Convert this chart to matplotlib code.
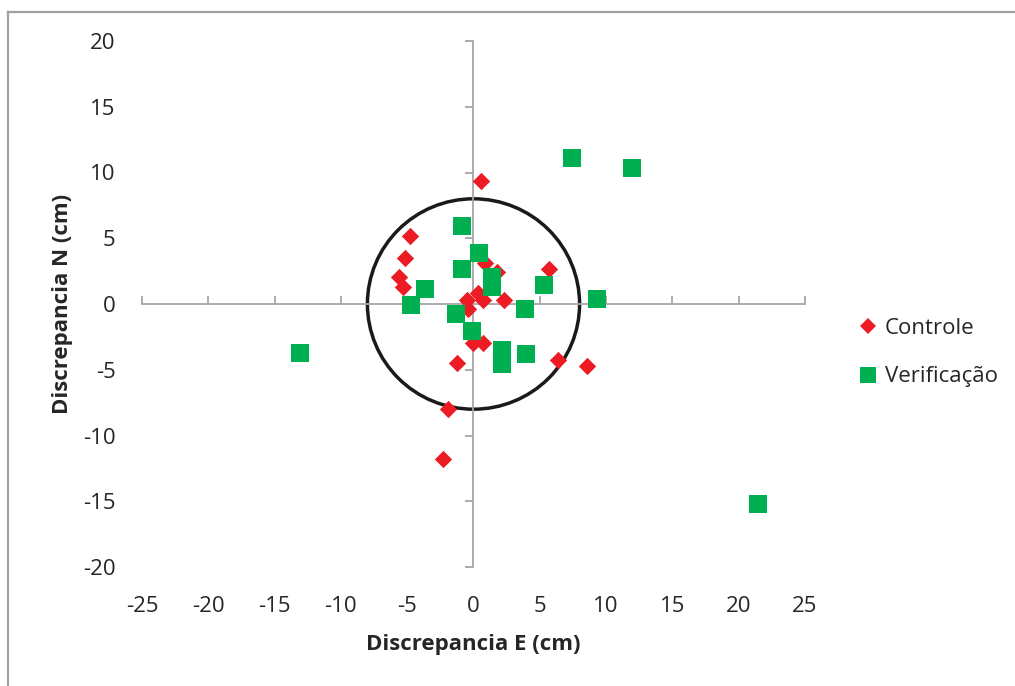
import matplotlib
matplotlib.use("Agg")
import matplotlib.pyplot as plt
from matplotlib.patches import Circle
from matplotlib.lines import Line2D

# Discrepancies (cm) of the control and check points
ctrl_e = [0.58, -4.76, -5.16, -5.63, -5.34, 0.88, 1.78, 5.67, 0.33, -0.5,
          0.75, 2.31, -0.42, 0.0, 0.7, -1.25, 6.4, 8.57, -1.95, -2.28]
ctrl_n = [9.36, 5.2, 3.47, 2.02, 1.32, 3.14, 2.45, 2.68, 0.86, 0.3,
          0.3, 0.3, -0.4, -2.94, -2.99, -4.45, -4.25, -4.7, -8.0, -11.77]

verif_e = [7.44, 11.93, -0.87, 0.38, -0.83, 1.38, 1.43, -3.68, 5.34, 9.28,
           -4.74, 3.91, -1.35, -0.08, 2.18, 2.18, 3.98, -13.1, 21.47]
verif_n = [11.14, 10.33, 5.92, 3.85, 2.63, 2.07, 1.27, 1.12, 1.42, 0.36,
           -0.1, -0.4, -0.78, -2.07, -3.52, -4.56, -3.82, -3.72, -15.19]

tolerance_radius = 8
x_ticks = list(range(-25, 30, 5))
y_ticks = list(range(-20, 25, 5))

series_labels = ["Controle", "Verificação"]
red = "#ED1C24"
green = "#00B050"
axis_grey = "#A6A6A6"
text_col = "#262626"

plt.rcParams["font.family"] = ["Open Sans", "DejaVu Sans"]
plt.rcParams["axes.unicode_minus"] = False

W, H = 1015, 686
fig = plt.figure(figsize=(W / 100, H / 100), dpi=100)

# outer chart frame (left and top edges only fall inside the canvas)
frame_kw = dict(transform=fig.transFigure, color="#A0A0A0", linewidth=1.6)
fig.lines.append(Line2D([7.5 / W, 7.5 / W], [0, 1 - 11.5 / H], **frame_kw))
fig.lines.append(Line2D([7.5 / W, 1], [1 - 11.5 / H, 1 - 11.5 / H], **frame_kw))

rect = [142 / W, (H - 567) / H, 663 / W, 526 / H]

# labels layer (tick labels at the outer edges)
lab = fig.add_axes(rect)
lab.set_facecolor("none")
for s in lab.spines.values():
    s.set_visible(False)
lab.set_xlim(-25, 25)
lab.set_ylim(-20, 20)
lab.set_xticks(x_ticks)
lab.set_yticks(y_ticks)
lab.tick_params(length=0, labelsize=16, labelcolor=text_col)
lab.tick_params(axis="x", pad=21)
lab.tick_params(axis="y", pad=19)
lab.set_xlabel("Discrepancia E (cm)", fontsize=16, fontweight="bold",
               color=text_col, labelpad=12)
lab.set_ylabel("Discrepancia N (cm)", fontsize=16, fontweight="bold",
               color=text_col, labelpad=7)

# data layer with axes crossing at the origin
ax = fig.add_axes(rect, sharex=lab, sharey=lab)
ax.set_facecolor("none")
ax.spines["left"].set_position(("data", 0))
ax.spines["bottom"].set_position(("data", 0))
ax.spines["right"].set_visible(False)
ax.spines["top"].set_visible(False)
for s in ("left", "bottom"):
    ax.spines[s].set_color(axis_grey)
    ax.spines[s].set_linewidth(1.3)
ax.tick_params(axis="y", direction="out", length=6, width=1.3, color=axis_grey,
               labelleft=False)
ax.tick_params(axis="x", direction="in", length=6, width=1.3, color=axis_grey,
               labelbottom=False)

ax.add_patch(Circle((0, 0), tolerance_radius, fill=False, edgecolor="#1A1A1A",
                    linewidth=2.5, zorder=2))

ax.scatter(ctrl_e, ctrl_n, marker="D", s=78, color=red, linewidths=0,
           zorder=3, label=series_labels[0])
ax.scatter(verif_e, verif_n, marker="s", s=185, color=green, linewidths=0,
           zorder=4, label=series_labels[1])
ax.set_xlim(-25, 25)
ax.set_ylim(-20, 20)

handles = [
    Line2D([], [], marker="D", linestyle="none", markersize=8, color=red,
           markeredgewidth=0),
    Line2D([], [], marker="s", linestyle="none", markersize=11, color=green,
           markeredgewidth=0),
]
fig.legend(handles, series_labels, loc="upper left",
           bbox_to_anchor=(857 / W, 1 - 318 / H), frameon=False,
           fontsize=16, handlelength=1.0, handletextpad=0.25,
           labelspacing=1.23, borderpad=0, borderaxespad=0,
           labelcolor=text_col)

fig.savefig("out.png", dpi=100)
